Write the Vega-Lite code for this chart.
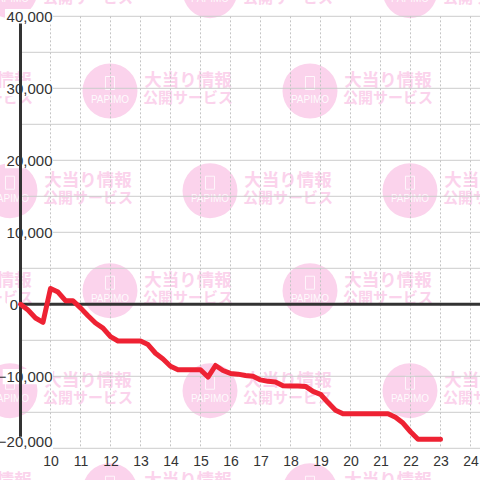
{
"$schema":"https://vega.github.io/schema/vega-lite/v6.json",
"width":480,"height":480,"padding":0,"autosize":{"type":"none"},"background":"#ffffff",
"config":{"view":{"stroke":null}},
"resolve":{"axis":{"x":"independent","y":"independent"}},
"datasets":{
"tiles":[
{"hour":8.65,"value":43556},{"hour":15.317,"value":43556},{"hour":21.983,"value":43556},
{"hour":5.317,"value":29625},{"hour":11.983,"value":29625},{"hour":18.65,"value":29625},
{"hour":8.65,"value":15778},{"hour":15.317,"value":15778},{"hour":21.983,"value":15778},
{"hour":5.317,"value":1889},{"hour":11.983,"value":1889},{"hour":18.65,"value":1889},
{"hour":8.65,"value":-12000},{"hour":15.317,"value":-12000},{"hour":21.983,"value":-12000},
{"hour":5.317,"value":-25889},{"hour":11.983,"value":-25889},{"hour":18.65,"value":-25889}],
"hgrid":[{"value":40000,"a":9,"b":24.3167},{"value":35000,"a":9,"b":24.3167},{"value":30000,"a":9,"b":24.3167},{"value":25000,"a":9,"b":24.3167},{"value":20000,"a":9,"b":24.3167},{"value":15000,"a":9,"b":24.3167},{"value":10000,"a":9,"b":24.3167},{"value":5000,"a":9,"b":24.3167},{"value":-5000,"a":9,"b":24.3167},{"value":-10000,"a":9,"b":24.3167},{"value":-15000,"a":9,"b":24.3167},{"value":-20000,"a":9,"b":24.3167}],
"vgrid":[{"hour":10,"a":40000,"b":-20000},{"hour":11,"a":40000,"b":-20000},{"hour":12,"a":40000,"b":-20000},{"hour":13,"a":40000,"b":-20000},{"hour":14,"a":40000,"b":-20000},{"hour":15,"a":40000,"b":-20000},{"hour":16,"a":40000,"b":-20000},{"hour":17,"a":40000,"b":-20000},{"hour":18,"a":40000,"b":-20000},{"hour":19,"a":40000,"b":-20000},{"hour":20,"a":40000,"b":-20000},{"hour":21,"a":40000,"b":-20000},{"hour":22,"a":40000,"b":-20000},{"hour":23,"a":40000,"b":-20000},{"hour":24,"a":40000,"b":-20000}],
"labelbg":[
{"from":8.483,"to":10.083,"top":41000,"bottom":38900},
{"from":8.483,"to":10.083,"top":31000,"bottom":28900},
{"from":8.483,"to":10.083,"top":21000,"bottom":18900},
{"from":8.483,"to":10.083,"top":11000,"bottom":8900},
{"from":8.55,"to":8.917,"top":1000,"bottom":-1100},
{"from":8.407,"to":10.083,"top":-9000,"bottom":-11100},
{"from":8.407,"to":10.083,"top":-18400,"bottom":-20200}],
"series":[
{"hour":9,"value":0},{"hour":9.25,"value":-800},{"hour":9.5,"value":-1900},{"hour":9.75,"value":-2500},
{"hour":10,"value":2200},{"hour":10.25,"value":1700},{"hour":10.5,"value":500},{"hour":10.75,"value":500},
{"hour":11,"value":-500},{"hour":11.25,"value":-1600},{"hour":11.5,"value":-2600},{"hour":11.75,"value":-3300},
{"hour":12,"value":-4500},{"hour":12.25,"value":-5100},{"hour":12.5,"value":-5100},{"hour":12.75,"value":-5100},
{"hour":13,"value":-5100},{"hour":13.25,"value":-5600},{"hour":13.5,"value":-6800},{"hour":13.75,"value":-7600},
{"hour":14,"value":-8600},{"hour":14.25,"value":-9100},{"hour":14.5,"value":-9100},{"hour":14.75,"value":-9100},
{"hour":15,"value":-9100},{"hour":15.25,"value":-10100},{"hour":15.5,"value":-8500},{"hour":15.75,"value":-9200},
{"hour":16,"value":-9600},{"hour":16.25,"value":-9700},{"hour":16.5,"value":-9900},{"hour":16.75,"value":-10000},
{"hour":17,"value":-10500},{"hour":17.25,"value":-10700},{"hour":17.5,"value":-10800},{"hour":17.75,"value":-11300},
{"hour":18,"value":-11350},{"hour":18.25,"value":-11350},{"hour":18.5,"value":-11400},{"hour":18.75,"value":-12100},
{"hour":19,"value":-12500},{"hour":19.25,"value":-13650},{"hour":19.5,"value":-14700},{"hour":19.75,"value":-15200},
{"hour":20,"value":-15200},{"hour":20.25,"value":-15200},{"hour":20.5,"value":-15200},{"hour":20.75,"value":-15200},
{"hour":21,"value":-15200},{"hour":21.25,"value":-15200},{"hour":21.5,"value":-15700},{"hour":21.75,"value":-16500},
{"hour":22,"value":-17700},{"hour":22.25,"value":-18750},{"hour":22.5,"value":-18750},{"hour":22.75,"value":-18750},{"hour":23,"value":-18750}]
},
"layer":[
{"data":{"name":"tiles"},"mark":{"type":"point","shape":"circle","filled":true,"size":3025,"color":"#fbd3ec","opacity":1},
 "encoding":{"x":{"field":"hour","type":"quantitative","scale":{"domain":[8.3167,24.3167],"nice":false,"zero":false},"axis":null},
 "y":{"field":"value","type":"quantitative","scale":{"domain":[-24403,42264],"nice":false,"zero":false},"axis":null}}},
{"data":{"name":"tiles"},"mark":{"type":"point","shape":"M-0.7,-1H0.7V1H-0.7Z","filled":false,"size":169,"stroke":"#ffffff","strokeWidth":1,"opacity":0.8,"yOffset":-8},
 "encoding":{"x":{"field":"hour","type":"quantitative","axis":null},"y":{"field":"value","type":"quantitative","axis":null}}},
{"data":{"name":"tiles"},"mark":{"type":"text","text":"PAPIMO","font":"Liberation Sans","fontSize":10,"color":"#ffffff","dy":8.5,"opacity":0.9},
 "encoding":{"x":{"field":"hour","type":"quantitative","axis":null},"y":{"field":"value","type":"quantitative","axis":null}}},
{"data":{"name":"tiles"},"mark":{"type":"text","text":"大当り情報","font":"Noto Sans CJK JP","fontWeight":"bold","fontSize":17.5,"color":"#fbd3ec","dx":78,"dy":-10},
 "encoding":{"x":{"field":"hour","type":"quantitative","axis":null},"y":{"field":"value","type":"quantitative","axis":null}}},
{"data":{"name":"tiles"},"mark":{"type":"text","text":"公開サービス","font":"Noto Sans CJK JP","fontWeight":"bold","fontSize":15,"color":"#fbd3ec","dx":78,"dy":7},
 "encoding":{"x":{"field":"hour","type":"quantitative","axis":null},"y":{"field":"value","type":"quantitative","axis":null}}},
{"data":{"name":"hgrid"},"mark":{"type":"rule","color":"#cccccc","strokeWidth":1},
 "encoding":{"x":{"field":"a","type":"quantitative","axis":null},"x2":{"field":"b"},"y":{"field":"value","type":"quantitative","axis":null}}},
{"data":{"name":"vgrid"},"mark":{"type":"rule","color":"#c4c4c4","strokeWidth":1,"strokeDash":[2,2]},
 "encoding":{"x":{"field":"hour","type":"quantitative","axis":null},"y":{"field":"a","type":"quantitative","axis":null},"y2":{"field":"b"}}},
{"data":{"name":"labelbg"},"mark":{"type":"rect","color":"#ffffff"},
 "encoding":{"x":{"field":"from","type":"quantitative","axis":null},"x2":{"field":"to"},"y":{"field":"top","type":"quantitative","axis":null},"y2":{"field":"bottom"}}},
{"data":{"values":[{"hour":9,"top":39000,"bottom":-18400}]},"mark":{"type":"rule","color":"#333333","strokeWidth":3},
 "encoding":{"x":{"field":"hour","type":"quantitative","axis":null},"y":{"field":"top","type":"quantitative","axis":{"title":null,"orient":"left","offset":-52,"values":[-20000],"format":",d","grid":false,"domain":false,"ticks":false,"labelPadding":0,"labelOffset":-7,"labelFont":"Liberation Sans","labelFontSize":15,"labelColor":"#333333","labelBaseline":"middle","labelAlign":"right","labelFlush":false,"labelOverlap":false,"labelBound":false,"zindex":1}},"y2":{"field":"bottom"}}},
{"data":{"values":[{"from":9,"to":24.3167,"value":0}]},"mark":{"type":"rule","color":"#333333","strokeWidth":3},
 "encoding":{"x":{"field":"from","type":"quantitative","axis":null},"x2":{"field":"to"},"y":{"field":"value","type":"quantitative","axis":{"title":null,"orient":"left","offset":-17.5,"values":[0],"format":",d","grid":false,"domain":false,"ticks":false,"labelPadding":0,"labelFont":"Liberation Sans","labelFontSize":15,"labelColor":"#333333","labelBaseline":"middle","labelAlign":"right","labelFlush":false,"labelOverlap":false,"labelBound":false,"zindex":1}}}},
{"data":{"name":"series"},"mark":{"type":"line","color":"#ee2233","strokeWidth":5,"strokeJoin":"round","strokeCap":"round"},
 "encoding":{
 "x":{"field":"hour","type":"quantitative","axis":{"title":null,"orient":"bottom","offset":-26,"values":[10,11,12,13,14,15,16,17,18,19,20,21,22,23,24],"format":"d","grid":false,"domain":false,"ticks":false,"labelPadding":0,"labelFont":"Liberation Sans","labelFontSize":14,"labelColor":"#333333","labelBaseline":"top","labelAlign":"center","labelFlush":false,"labelOverlap":false,"labelBound":false,"zindex":1}},
 "y":{"field":"value","type":"quantitative","axis":{"title":null,"orient":"left","offset":-52,"values":[40000,30000,20000,10000,-10000],"format":",d","grid":false,"domain":false,"ticks":false,"labelPadding":0,"labelFont":"Liberation Sans","labelFontSize":15,"labelColor":"#333333","labelBaseline":"middle","labelAlign":"right","labelFlush":false,"labelOverlap":false,"labelBound":false,"zindex":1}}}}
]
}
